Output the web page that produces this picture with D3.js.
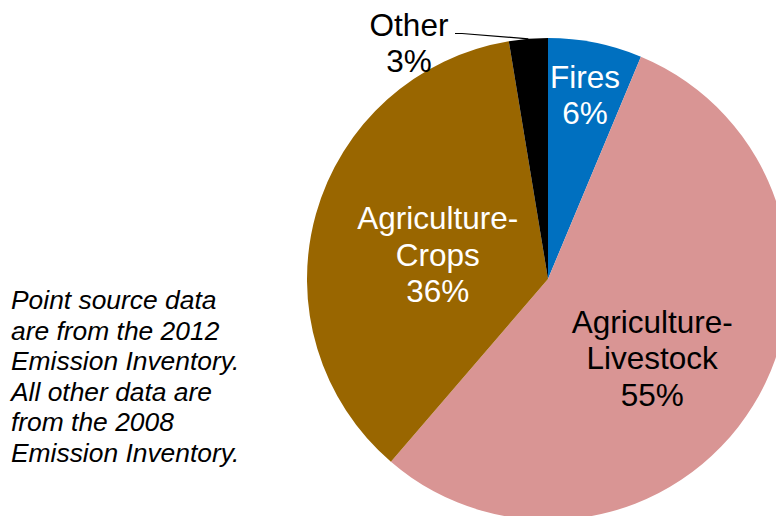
<!DOCTYPE html>
<html>
<head>
<meta charset="utf-8">
<script src="https://cdn.jsdelivr.net/npm/d3@7"></script>
<style>
  html, body { margin: 0; padding: 0; background: #fff; }
  svg { display: block; }
</style>
</head>
<body>
<svg id="chart" width="776" height="516"></svg>
<script>
// ---- data ----
const categories = ["Fires", "Agriculture-Livestock", "Agriculture-Crops", "Other"];
const labelLines = [["Fires", "6%"], ["Agriculture-", "Livestock", "55%"], ["Agriculture-", "Crops", "36%"], ["Other", "3%"]];
const values = [6.3, 55.0, 36.1, 2.6];
const colors = ["#0070C0", "#D99594", "#996600", "#000000"];
const labelColors = ["#ffffff", "#000000", "#ffffff", "#000000"];
const noteLines = ["Point source data", "are from the 2012", "Emission Inventory.", "All other data are", "from the 2008", "Emission Inventory."];

// ---- layout ----
const W = 776, H = 516;
const cx = 548, cy = 279, R = 241;
const labelRadiusFrac = [0.78, 0.542, 0.469, 1.15];
const labelAngleShift = [0, 5.4, -3, 0]; // degrees
const font = "'Liberation Sans', Arial, sans-serif";

const svg = d3.select("#chart");
const g = svg.append("g").attr("transform", `translate(${cx},${cy})`);

const data = categories.map((c, i) => ({ name: c, value: values[i], i }));
const pie = d3.pie().sort(null).value(d => d.value).startAngle(0).endAngle(2 * Math.PI);
const arcs = pie(data);
const arc = d3.arc().innerRadius(0).outerRadius(R);

g.selectAll("path.slice")
  .data(arcs)
  .enter().append("path")
  .attr("class", "slice")
  .attr("d", arc)
  .attr("fill", d => colors[d.data.i]);

// labels
const fs = 31.5, lh = 36.5;
arcs.forEach(a => {
  const i = a.data.i;
  const mid = (a.startAngle + a.endAngle) / 2 + labelAngleShift[i] * Math.PI / 180;
  const lr = R * labelRadiusFrac[i];
  let x = lr * Math.sin(mid), y = -lr * Math.cos(mid);
  const lines = labelLines[i];
  if (i === 3) { // outside label with leader
    x = 409 - cx; y = 42.5 - cy;
    const m0 = (a.startAngle + a.endAngle) / 2;
    const edge = [R * Math.sin(m0), -R * Math.cos(m0)];
    g.append("polyline")
      .attr("points", `${455 - cx},${33.5 - cy} ${462 - cx},${33.5 - cy} ${edge[0]},${edge[1]}`)
      .attr("fill", "none").attr("stroke", "#000").attr("stroke-width", 1.2);
  }
  const t = g.append("text")
    .attr("text-anchor", "middle")
    .attr("font-family", font)
    .attr("font-size", fs)
    .attr("fill", labelColors[i]);
  const n = lines.length;
  lines.forEach((ln, k) => {
    t.append("tspan")
      .attr("x", x)
      .attr("y", y + (k - (n - 1) / 2) * lh + fs * 0.358)
      .text(ln);
  });
});

// note
const note = svg.append("text")
  .attr("font-family", font)
  .attr("font-size", 26.4)
  .attr("font-style", "italic")
  .attr("fill", "#000");
noteLines.forEach((ln, k) => {
  note.append("tspan").attr("x", 11).attr("y", 309 + k * 30.5).text(ln);
});
</script>
</body>
</html>
